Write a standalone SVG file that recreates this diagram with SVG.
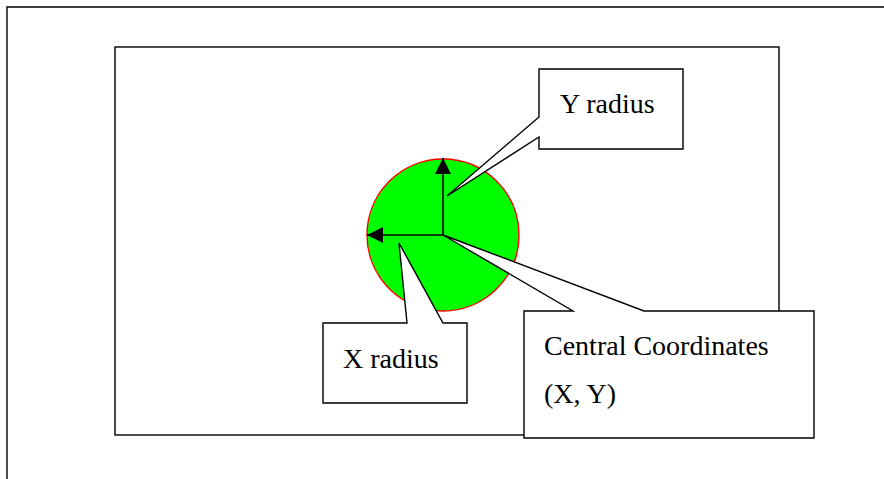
<svg xmlns="http://www.w3.org/2000/svg" width="884" height="479" viewBox="0 0 884 479">
<style>
.frame{fill:none;stroke:#000;stroke-width:1.4}
.box{fill:#fff;stroke:#000;stroke-width:1.4;stroke-linejoin:miter}
.lbl{font-family:'Liberation Serif','Times New Roman','DejaVu Serif',serif;font-size:28px;fill:#000}
.arr{stroke:#000;stroke-width:1.6;fill:none}
</style>
<defs>
<marker id="ah" viewBox="0 0 16 16" refX="16" refY="8" markerWidth="16" markerHeight="16" markerUnits="userSpaceOnUse" orient="auto">
<path d="M0,0 L16,8 L0,16 Z" fill="#000"/>
</marker>
</defs>
<rect width="884" height="479" fill="#fff"/>
<g id="outer-frame"><path class="frame" d="M7,479 V7 H884"/></g>
<g id="canvas"><rect class="frame" x="115" y="47" width="664" height="388"/></g>
<g id="ellipse"><ellipse cx="443" cy="235" rx="76" ry="76" fill="#00ff00" stroke="#ff0000" stroke-width="1.4"/></g>
<g id="connectors">
<line class="arr" x1="443" y1="235" x2="443" y2="158" marker-end="url(#ah)"/>
<line class="arr" x1="443" y1="235" x2="367" y2="235" marker-end="url(#ah)"/>
</g>
<g id="y-radius">
<polygon class="box" points="539,69 683,69 683,149 539,149 539,137 447,196 539,117"/>
<text class="lbl" font-family="Liberation Serif, serif" x="560" y="113">Y radius</text>
</g>
<g id="x-radius">
<polygon class="box" points="323,323 407,323 399,243 443,323 467,323 467,403 323,403"/>
<text class="lbl" font-family="Liberation Serif, serif" x="343" y="368">X radius</text>
</g>
<g id="central-coordinates">
<polygon class="box" points="524,311 573,311 443,235 644,311 814,311 814,438 524,438"/>
<text class="lbl" font-family="Liberation Serif, serif" x="544" y="355">Central Coordinates</text>
<text class="lbl" font-family="Liberation Serif, serif" x="544" y="403">(X, Y)</text>
</g>
</svg>
